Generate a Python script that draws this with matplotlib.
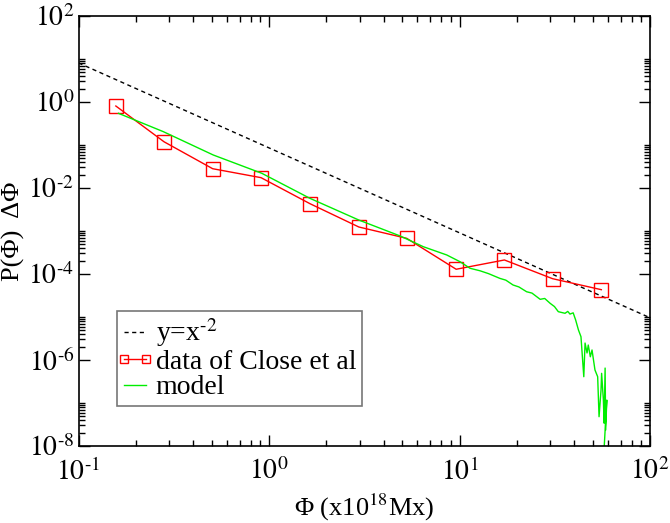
import matplotlib.pyplot as plt
from matplotlib.ticker import FixedLocator, LogLocator, NullFormatter, FuncFormatter
from matplotlib.legend_handler import HandlerLine2D
import numpy as np

plt.rcParams['font.family'] = ['Liberation Serif', 'DejaVu Serif']
plt.rcParams['mathtext.fontset'] = 'stix'

# reference power law y = x^-2 (end points)
ref_flux = [0.1, 100.0]
ref_prob = [8.1, 9.6e-6]

# data of Close et al
close_flux = [0.157, 0.281, 0.506, 0.908, 1.64, 2.96, 5.28, 9.6, 17.2, 30.8, 55.5]
close_prob = [0.807, 0.119, 0.0281, 0.0174, 4.32e-3, 1.24e-3, 6.76e-4,
              1.29e-4, 2.12e-4, 7.78e-5, 4.32e-5]

# model curve
model_flux = [0.162, 0.279, 0.510, 0.916, 1.64, 2.96, 4.88, 6.46, 8.57, 10.06,
              11.35, 12.8, 14.2, 16.3, 17.5, 19.1, 20.5, 22.5, 24.0, 26.5,
              28.0, 29.9, 31.5, 33.0, 35.8, 37.0, 38.0, 39.5,
              40.7, 42.1, 43.4, 44.9, 45.6, 46.7, 47.4, 48.6, 49.6, 51.4,
              53.1, 54.0, 55.3, 55.7, 56.9, 57.4, 58.1, 58.5, 59.3, 57.0]
model_prob = [0.546, 0.204, 0.0585, 0.0220, 5.75e-3, 1.8e-3, 7.66e-4, 4.31e-4,
              2.77e-4, 1.93e-4, 1.36e-4, 1.19e-4, 1.02e-4, 7.9e-5, 7.2e-5,
              5.55e-5, 5.0e-5, 3.87e-5, 3.6e-5, 2.58e-5, 2.7e-5, 2.08e-5,
              1.75e-5, 1.33e-5, 1.22e-5, 1.35e-5, 1.17e-5, 1.25e-5, 8.5e-6,
              4.99e-6, 3.48e-6, 4.09e-7, 2.48e-6, 1.46e-6, 2.23e-6, 1.19e-6,
              1.71e-6, 5.85e-7, 4.09e-7, 4.8e-8, 2.0e-7, 4.9e-7, 1.17e-7, 3.4e-8,
              6.5e-7, 2.35e-8, 1.17e-7, 5e-9]


def pow10(v, pos):
    e = int(round(np.log10(v)))
    s = str(e).replace('-', r'\text{-}')
    return r'$\mathrm{10}^{%s}$' % s


fig = plt.figure(figsize=(6.7, 5.23), dpi=100)
ax = fig.add_axes([0.1172, 0.1472, 0.853, 0.8222])

ax.plot(ref_flux, ref_prob, color='black', lw=1, dashes=(3, 2.5), label=r'y=x$^{\text{-}2}$')
ax.plot(close_flux, close_prob, color='red', lw=1, marker='s', ms=10,
        mfc='none', mec='red', mew=1, label='data of Close et al')
ax.plot(model_flux, model_prob, color='#00ee00', lw=1, label='model')

ax.set_xscale('log')
ax.set_yscale('log')
ax.set_xlim(0.1, 100)
ax.set_ylim(1e-8, 1e2)

ax.yaxis.set_major_locator(FixedLocator([1e-8, 1e-6, 1e-4, 1e-2, 1e0, 1e2]))
ax.yaxis.set_major_formatter(FuncFormatter(pow10))
ax.xaxis.set_major_formatter(FuncFormatter(pow10))
ymin = [k * 10.0 ** e for e in (-8, -6, -4, -2, 0) for k in range(2, 11)]
ax.yaxis.set_minor_locator(FixedLocator(ymin))
ax.yaxis.set_minor_formatter(NullFormatter())
ax.xaxis.set_minor_locator(LogLocator(base=10, subs=range(2, 10)))
ax.xaxis.set_minor_formatter(NullFormatter())

ax.tick_params(which='both', direction='in', top=True, right=True, width=1)
ax.tick_params(which='major', length=8, labelsize=20)
ax.tick_params(axis='x', which='major', pad=9)
ax.tick_params(axis='y', which='major', pad=3)
ax.tick_params(which='minor', length=4)
for s in ax.spines.values():
    s.set_linewidth(1.2)

ax.set_xlabel('Φ (x10$^{18}$Mx)', fontsize=19, labelpad=4)
ax.set_ylabel('P(Φ)  ΔΦ', fontsize=19)
ax.yaxis.set_label_coords(-0.093, 0.5)

leg = ax.legend(loc='upper left', bbox_to_anchor=(0.067, 0.314), borderaxespad=0,
                fontsize=20, frameon=True, fancybox=False, numpoints=2,
                markerscale=0.6, handlelength=0.9, handletextpad=0.3,
                labelspacing=0.0, borderpad=0.2,
                handler_map={plt.Line2D: HandlerLine2D(marker_pad=0.05)})
leg.get_frame().set_edgecolor('#555555')
leg.get_frame().set_linewidth(1.2)

fig.savefig('out.png', dpi=100)
